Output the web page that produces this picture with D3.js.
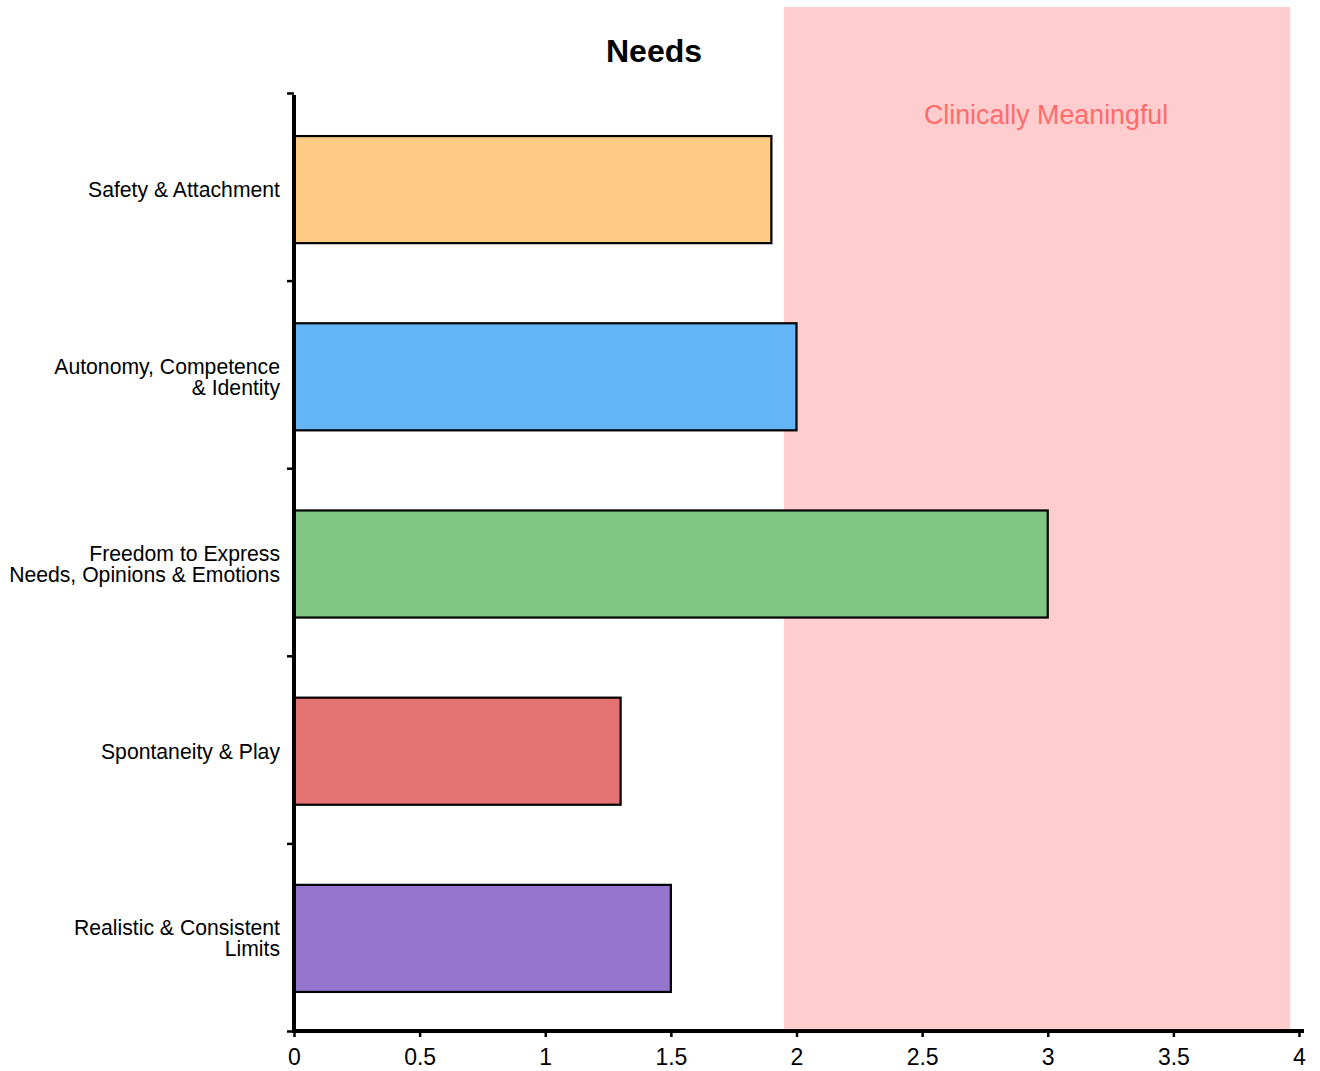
<!DOCTYPE html>
<html><head><meta charset="utf-8">
<script src="https://cdn.jsdelivr.net/npm/d3@7"></script>
<style>body{margin:0;background:#fff}svg{display:block}text{font-family:"Liberation Sans",Arial,sans-serif}</style>
</head><body>
<script>
const categories = [["Safety & Attachment"],["Autonomy, Competence","& Identity"],["Freedom to Express","Needs, Opinions & Emotions"],["Spontaneity & Play"],["Realistic & Consistent","Limits"]];
const values = [1.9, 2.0, 3.0, 1.3, 1.5];
const colors = ["#FFCC85", "#64B5F6", "#81C784", "#E57373", "#9575CD"];
const xTicks = [0, 0.5, 1, 1.5, 2, 2.5, 3, 3.5, 4];
const zone = [1.95, 3.965];
const title = "Needs";
const zoneLabel = "Clinically Meaningful";

const W = 1320, H = 1071;
const svg = d3.select("body").append("svg").attr("width", W).attr("height", H);
const x = d3.scaleLinear().domain([0, 4]).range([294, 1299]);
const y = d3.scaleBand().domain(d3.range(values.length)).range([96, 1032]).paddingInner(0.428).paddingOuter(0.214);
const yb = d3.scaleLinear().domain([0, values.length]).range([93, 1031]);

// zone
svg.append("rect").attr("x", x(zone[0])).attr("y", 7).attr("width", x(zone[1]) - x(zone[0])).attr("height", 1029 - 7).attr("fill", "#FFCDCD");
svg.append("text").attr("x", (x(zone[0]) + x(zone[1])) / 2 + 9).attr("y", 124).attr("text-anchor", "middle")
  .attr("font-size", 26.8).attr("fill", "#FF6B6B").text(zoneLabel);

// title
svg.append("text").attr("x", 654).attr("y", 62).attr("text-anchor", "middle").attr("font-size", 32).attr("font-weight", "bold").text(title);

// bars
svg.selectAll("rect.bar").data(values).join("rect").attr("class", "bar")
  .attr("x", x(0)).attr("y", (d, i) => y(i)).attr("width", d => x(d) - x(0)).attr("height", y.bandwidth())
  .attr("fill", (d, i) => colors[i]).attr("stroke", "#000").attr("stroke-width", 2.2);

// y labels
categories.forEach((lines, i) => {
  const cy = y(i) + y.bandwidth() / 2;
  const t = svg.append("text").attr("text-anchor", "end").attr("font-size", 21.2).attr("fill", "#000");
  const lh = 21;
  lines.forEach((ln, j) => {
    t.append("tspan").attr("x", 280).attr("y", cy + (j - (lines.length - 1) / 2) * lh).attr("dy", "0.35em").text(ln);
  });
});

// y axis
const yAxis = svg.append("g").attr("transform", "translate(294,0)")
  .call(d3.axisLeft(yb).tickValues(d3.range(values.length + 1)).tickFormat("").tickSize(7).tickSizeOuter(0));
yAxis.select(".domain").attr("stroke-width", 4).attr("d", `M0,${yb(values.length)}V${yb(0) + 2}`);
yAxis.selectAll(".tick line").attr("stroke-width", 2.5);

// x axis
const xAxis = svg.append("g").attr("transform", "translate(0,1031)")
  .call(d3.axisBottom(x).tickValues(xTicks).tickFormat(d => String(d)).tickSize(6).tickSizeOuter(0));
xAxis.select(".domain").attr("stroke-width", 4).attr("d", `M${x(0) - 2},0H${x(4) + 5}`);
xAxis.selectAll(".tick line").attr("stroke-width", 2.5);
xAxis.selectAll(".tick text").attr("font-size", 23).attr("font-family", "Liberation Sans, Arial, sans-serif").attr("fill", "#000").attr("dy", "0.85em").attr("y", 14);
</script>
</body></html>
